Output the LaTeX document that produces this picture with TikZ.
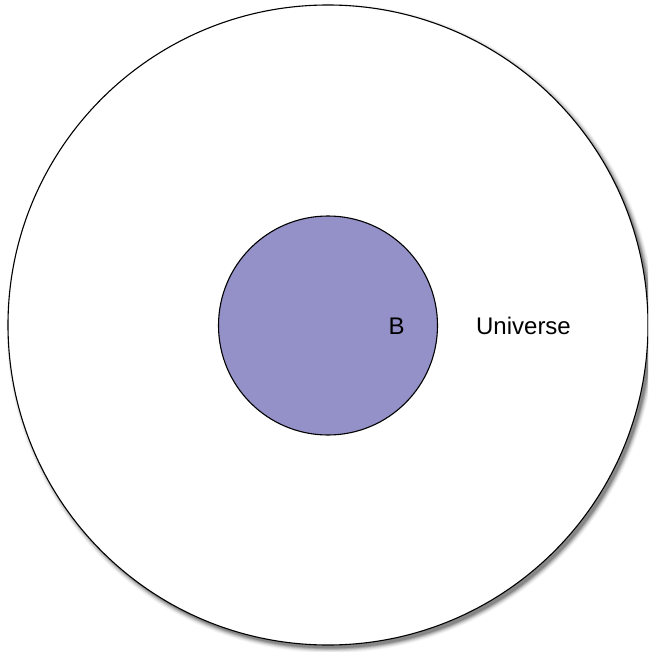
\documentclass[tikz,border=0pt]{standalone}
\usepackage{fontspec}
\setmainfont{Liberation Sans}
\definecolor{setfill}{RGB}{148,145,200}
\begin{document}
\begin{tikzpicture}[x=1pt,y=-1pt,
  setcircle/.style={circle,draw=black,line width=1.1pt,inner sep=0pt},
  lbl/.style={font=\fontsize{24}{28}\selectfont,inner sep=0pt}]
\useasboundingbox (0,0) rectangle (648,652);
\clip (0,0) rectangle (648,652);
% shadow
\foreach \d/\o in {1/0.16,2/0.13,3/0.10,4/0.08,5/0.06,6/0.04,7/0.03}{
  \fill[black,opacity=\o] (331,328.5) circle ({319+\d*0.8});
}
\node[setcircle,fill=white,minimum size=640pt] (U) at (328,325) {};
\node[setcircle,fill=setfill,minimum size=219pt] (B) at (328,325.5) {};
\node[lbl] (bl) at (396.5,326) {B};
\node[lbl] (ul) at (523.5,326) {Universe};
\end{tikzpicture}
\end{document}
